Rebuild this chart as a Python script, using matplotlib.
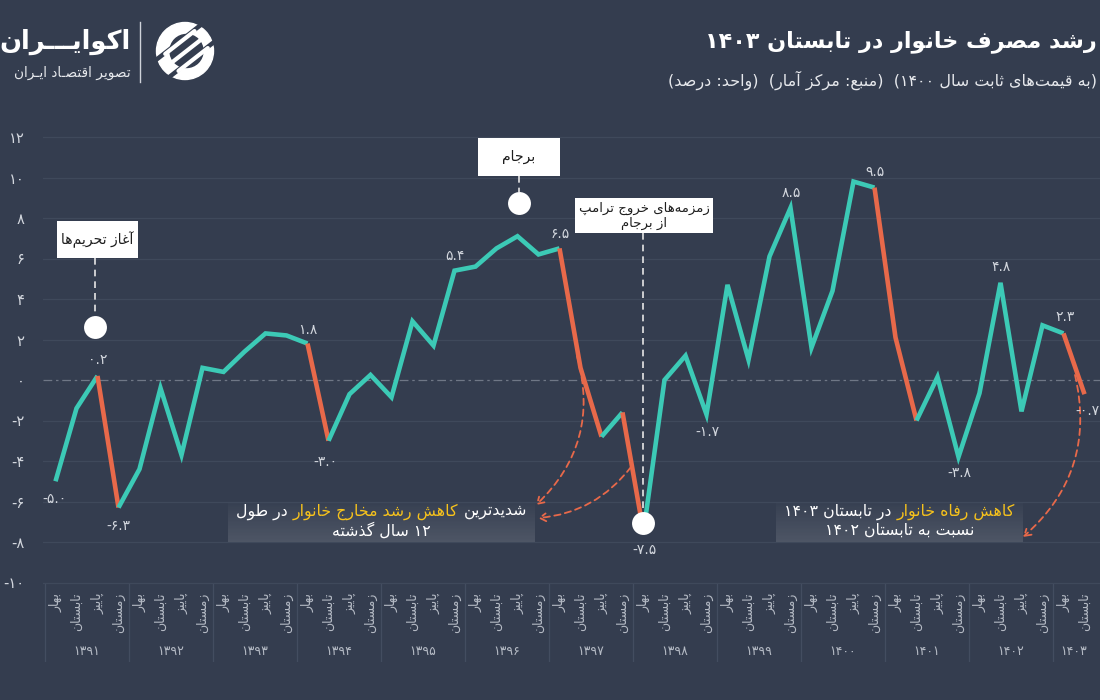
import re
import numpy as np
import matplotlib
matplotlib.use('Agg')
import matplotlib.pyplot as plt
from matplotlib.patches import Rectangle, Circle
from matplotlib.lines import Line2D

plt.rcParams['font.family'] = ['DejaVu Sans']

# ---------------- data ----------------
years = ['۱۳۹۱', '۱۳۹۲', '۱۳۹۳', '۱۳۹۴', '۱۳۹۵', '۱۳۹۶', '۱۳۹۷',
         '۱۳۹۸', '۱۳۹۹', '۱۴۰۰', '۱۴۰۱', '۱۴۰۲', '۱۴۰۳']
quarters = ['بهار', 'تابستان', 'پاییز', 'زمستان']
growth = [-5.0, -1.4, 0.2, -6.3,
          -4.4, -0.4, -3.7, 0.6,
          0.4, 1.4, 2.3, 2.2,
          1.8, -3.0, -0.7, 0.25,
          -0.85, 2.9, 1.7, 5.4,
          5.6, 6.5, 7.1, 6.2,
          6.5, 0.6, -2.8, -1.6,
          -7.5, 0.0, 1.2, -1.7,
          4.7, 1.0, 6.1, 8.5,
          1.6, 4.4, 9.8, 9.5,
          2.1, -2.0, 0.15, -3.8,
          -0.65, 4.8, -1.55, 2.7,
          2.3, -0.7]
decline_starts = [2, 12, 24, 25, 27, 39, 40, 48]
labeled_points = [0, 2, 3, 12, 13, 19, 24, 28, 31, 35, 39, 43, 45, 48, 49]
yticks = list(range(-10, 13, 2))

title = 'رشد مصرف خانوار در تابستان ۱۴۰۳'
subtitle = '(به قیمت‌های ثابت سال ۱۴۰۰)  (منبع: مرکز آمار)  (واحد: درصد)'
brand = 'اکوایـــران'
brand_sub = 'تصویر اقتصـاد ایـران'
event_sanctions = 'آغاز تحریم‌ها'
event_jcpoa = 'برجام'
event_trump = ['زمزمه‌های خروج ترامپ', 'از برجام']
note1 = [[('شدیدترین', 'w'), ('کاهش رشد مخارج خانوار', 'y'), ('در طول', 'w')],
         [('۱۲ سال گذشته', 'w')]]
note2 = [[('کاهش رفاه خانوار', 'y'), ('در تابستان ۱۴۰۳', 'w')],
         [('نسبت به تابستان ۱۴۰۲', 'w')]]

# ---------------- style ----------------
W, H = 1100, 700
BG = '#343d4f'
TEAL = '#3ccab6'
ORANGE = '#e8694a'
YELLOW = '#f6c21c'
GRID = '#3f495b'
TXT = '#d3d7de'

# ---------------- Persian shaping ----------------
_F = {}
def _add(ch, iso, fin, ini=None, med=None):
    _F[ch] = (iso, fin, ini, med)
_add('\u0627', 0xFE8D, 0xFE8E)
_add('\u0622', 0xFE81, 0xFE82)
_add('\u0628', 0xFE8F, 0xFE90, 0xFE91, 0xFE92)
_add('\u067E', 0xFB56, 0xFB57, 0xFB58, 0xFB59)
_add('\u062A', 0xFE95, 0xFE96, 0xFE97, 0xFE98)
_add('\u062B', 0xFE99, 0xFE9A, 0xFE9B, 0xFE9C)
_add('\u062C', 0xFE9D, 0xFE9E, 0xFE9F, 0xFEA0)
_add('\u0686', 0xFB7A, 0xFB7B, 0xFB7C, 0xFB7D)
_add('\u062D', 0xFEA1, 0xFEA2, 0xFEA3, 0xFEA4)
_add('\u062E', 0xFEA5, 0xFEA6, 0xFEA7, 0xFEA8)
_add('\u062F', 0xFEA9, 0xFEAA)
_add('\u0630', 0xFEAB, 0xFEAC)
_add('\u0631', 0xFEAD, 0xFEAE)
_add('\u0632', 0xFEAF, 0xFEB0)
_add('\u0698', 0xFB8A, 0xFB8B)
_add('\u0633', 0xFEB1, 0xFEB2, 0xFEB3, 0xFEB4)
_add('\u0634', 0xFEB5, 0xFEB6, 0xFEB7, 0xFEB8)
_add('\u0635', 0xFEB9, 0xFEBA, 0xFEBB, 0xFEBC)
_add('\u0636', 0xFEBD, 0xFEBE, 0xFEBF, 0xFEC0)
_add('\u0637', 0xFEC1, 0xFEC2, 0xFEC3, 0xFEC4)
_add('\u0638', 0xFEC5, 0xFEC6, 0xFEC7, 0xFEC8)
_add('\u0639', 0xFEC9, 0xFECA, 0xFECB, 0xFECC)
_add('\u063A', 0xFECD, 0xFECE, 0xFECF, 0xFED0)
_add('\u0641', 0xFED1, 0xFED2, 0xFED3, 0xFED4)
_add('\u0642', 0xFED5, 0xFED6, 0xFED7, 0xFED8)
_add('\u06A9', 0xFB8E, 0xFB8F, 0xFB90, 0xFB91)
_add('\u0643', 0xFED9, 0xFEDA, 0xFEDB, 0xFEDC)
_add('\u06AF', 0xFB92, 0xFB93, 0xFB94, 0xFB95)
_add('\u0644', 0xFEDD, 0xFEDE, 0xFEDF, 0xFEE0)
_add('\u0645', 0xFEE1, 0xFEE2, 0xFEE3, 0xFEE4)
_add('\u0646', 0xFEE5, 0xFEE6, 0xFEE7, 0xFEE8)
_add('\u0647', 0xFEE9, 0xFEEA, 0xFEEB, 0xFEEC)
_add('\u0648', 0xFEED, 0xFEEE)
_add('\u06CC', 0xFBFC, 0xFBFD, 0xFBFE, 0xFBFF)
_add('\u064A', 0xFEF1, 0xFEF2, 0xFEF3, 0xFEF4)
_add('\u0640', 0x0640, 0x0640, 0x0640, 0x0640)


def _dual(c):
    return c in _F and _F[c][2] is not None


def shape(s):
    out = []
    n = len(s)
    i = 0
    while i < n:
        c = s[i]
        prev = s[i - 1] if i > 0 else ''
        jp = _dual(prev)
        if c == '\u0644' and i + 1 < n and s[i + 1] in ('\u0627', '\u0622'):
            iso, fin = (0xFEFB, 0xFEFC) if s[i + 1] == '\u0627' else (0xFEF5, 0xFEF6)
            out.append(chr(fin if jp else iso))
            i += 2
            continue
        if c in _F:
            iso, fin, ini, med = _F[c]
            nxt = s[i + 1] if i + 1 < n else ''
            jn = ini is not None and nxt in _F
            if jp and jn:
                g = med
            elif jp:
                g = fin
            elif jn:
                g = ini
            else:
                g = iso
            out.append(chr(g))
        elif c != '\u200c':
            out.append(c)
        i += 1
    return ''.join(out)


_LTR = re.compile(r'[0-9\u06F0-\u06F9]+(?:[.\u066B][0-9\u06F0-\u06F9]+)*')
_MIR = {'(': ')', ')': '(', '[': ']', ']': '['}


def visual(s):
    s = shape(s)
    parts, pos = [], 0
    for m in _LTR.finditer(s):
        if m.start() > pos:
            parts.append(('r', s[pos:m.start()]))
        parts.append(('l', m.group()))
        pos = m.end()
    if pos < len(s):
        parts.append(('r', s[pos:]))
    out = []
    for kind, t in reversed(parts):
        if kind == 'l':
            out.append(t)
        else:
            out.append(''.join(_MIR.get(ch, ch) for ch in reversed(t)))
    return ''.join(out)


_FA = str.maketrans('0123456789', '۰۱۲۳۴۵۶۷۸۹')


def fa(v, fmt='{:.1f}'):
    s = fmt.format(abs(v)).translate(_FA)
    return ('-' if v < 0 else '') + s


# ---------------- figure ----------------
fig = plt.figure(figsize=(W / 100, H / 100), dpi=100, facecolor=BG)
renderer = fig.canvas.get_renderer()


def fx(px):
    return px / W


def fy(py):
    return 1 - py / H


# pixel geometry helpers (positions of annotations)
X0PX, DXPX, Y0PX, DYPX = 55.5, 21.0, 380.0, 20.25


def dx(px):
    return (px - X0PX) / DXPX


def dy(py):
    return (Y0PX - py) / DYPX


ax = fig.add_axes([fx(43), fy(590), (1100 - 43) / W, (590 - 110) / H])
ax.set_facecolor('none')
for s in ax.spines.values():
    s.set_visible(False)
ax.set_xticks([])
ax.set_yticks(yticks)
ax.set_yticklabels([fa(v, '{:.0f}') for v in yticks], fontsize=10.5, color=TXT)
ax.tick_params(axis='y', length=0, pad=13.5)
for v in yticks:
    if v != 0:
        ax.axhline(v, color=GRID, lw=0.9, zorder=0)
ax.axhline(0, color='#6f7786', lw=0.9, ls=(0, (7, 3, 2, 3)), zorder=0)

# line, split in runs by colour
xs = np.arange(len(growth))
cols = [ORANGE if i in decline_starts else TEAL for i in range(len(growth) - 1)]
start = 0
for i in range(1, len(cols) + 1):
    if i == len(cols) or cols[i] != cols[start]:
        ax.plot(xs[start:i + 1], growth[start:i + 1], color=cols[start], lw=3.3,
                solid_joinstyle='miter', solid_capstyle='butt', zorder=4)
        start = i

# value labels
lab_off = {0: (-1, 18), 2: (0, -16), 3: (0, 18), 12: (0, -14), 13: (-3, 21),
           19: (0, -15), 24: (1, -14), 28: (1, 18), 31: (1, 18), 35: (1, -15),
           39: (1, -16), 43: (1, 16), 45: (1, -16), 48: (2, -16), 49: (3, 17)}
for i in labeled_points:
    ox, oy = lab_off[i]
    ax.annotate(fa(growth[i]), (i, growth[i]), xytext=(ox * 0.72, -oy * 0.72),
                textcoords='offset points', ha='center', va='center',
                fontsize=10, color=TXT, zorder=7, annotation_clip=False)


# event boxes
def event_box(x0, x1, y0, y1, lines, fs=10):
    ax.add_patch(Rectangle((dx(x0), dy(y1)), dx(x1) - dx(x0), dy(y0) - dy(y1),
                           fc='white', ec='none', zorder=8, clip_on=False))
    cx = (dx(x0) + dx(x1)) / 2
    n = len(lines)
    cyp = (y0 + y1) / 2
    for k, t in enumerate(lines):
        ypx = cyp + (k - (n - 1) / 2) * 15
        ax.text(cx, dy(ypx), visual(t), ha='center', va='center', fontsize=fs,
                color='#1e1e1e', zorder=9)


def vdash(xpx, ya, yb):
    ax.plot([dx(xpx), dx(xpx)], [dy(ya), dy(yb)], color='#e6e6e6', lw=1.2,
            ls=(0, (4, 3)), zorder=5, clip_on=False)


def dot(xpx, ypx):
    ax.plot([dx(xpx)], [dy(ypx)], 'o', ms=16.5, color='white', mec='none', zorder=8,
            clip_on=False)


event_box(57, 138, 221, 258, [event_sanctions])
vdash(95, 258, 316)
dot(95, 327)

event_box(478, 560, 138, 176, [event_jcpoa])
vdash(519, 176, 192)
dot(519, 203)

event_box(575, 713, 198, 233, event_trump, fs=9.5)
vdash(643, 233, 512)
dot(643, 523)

# gradient note boxes
grad = np.zeros((64, 1, 4))
grad[..., :3] = 1.0
grad[:, 0, 3] = np.linspace(0.02, 0.13, 64)


def text_w(s, fs):
    t = fig.text(0, 0, s, fontsize=fs)
    w = t.get_window_extent(renderer).width
    t.remove()
    return w


def rich_line(cx, cy, segs, fs):
    pieces = [(visual(t), YELLOW if c == 'y' else 'white') for t, c in reversed(segs)]
    sp = text_w('x x', fs) - text_w('xx', fs)
    ws = [text_w(p, fs) for p, _ in pieces]
    total = sum(ws) + sp * (len(pieces) - 1)
    x = cx - total / 2
    for (p, c), w in zip(pieces, ws):
        fig.text(fx(x), fy(cy), p, color=c, fontsize=fs, ha='left', va='center',
                 zorder=10)
        x += w + sp


def note_box(x0, x1, y0, y1, lines, fs=11.3):
    ax.imshow(grad, extent=[dx(x0), dx(x1), dy(y1), dy(y0)], aspect='auto',
              origin='upper', zorder=2, interpolation='bilinear')
    cx = (x0 + x1) / 2
    for k, segs in enumerate(lines):
        rich_line(cx, y0 + 8.5 + k * 18.5, segs, fs)


note_box(228, 535, 503, 542, note1)
note_box(776, 1023, 503, 542, note2)
ax.set_xlim(dx(43), dx(1100))
ax.set_ylim(dy(590), dy(110))


# curved dashed arrows
def carrow(p0, p1, rad):
    ax.annotate('', xy=(dx(p1[0]), dy(p1[1])), xytext=(dx(p0[0]), dy(p0[1])),
                arrowprops=dict(arrowstyle='->,head_length=0.45,head_width=0.28',
                                color=ORANGE, lw=1.3, ls=(0, (3.5, 2.5)),
                                connectionstyle='arc3,rad=%s' % rad,
                                shrinkA=0, shrinkB=0), zorder=6)


carrow((577, 356), (536, 505), -0.3)
carrow((631, 467), (538, 518), -0.22)
carrow((1075, 375), (1023, 537), -0.3)

# ---------------- category axis ----------------
axl = fig.add_axes([fx(43), fy(662), (1100 - 43) / W, (662 - 584) / H])
axl.set_xlim(dx(43), dx(1100))
axl.set_ylim(0, 1)
axl.axis('off')
n = len(growth)
for b in range(0, n, 4):
    axl.plot([b - 0.5, b - 0.5], [0, 1], color='#434d60', lw=0.9)
for i in range(n):
    axl.text(i, 0.885, visual(quarters[i % 4]), rotation=90, ha='center', va='top',
             fontsize=9, color='#b4bac4')
for k, yname in enumerate(years):
    first = 4 * k
    last = min(4 * k + 3, n - 1)
    axl.text((first + last) / 2, 0.13, yname, ha='center', va='center',
             fontsize=9, color='#b4bac4')

# ---------------- title & branding ----------------
fig.text(fx(1097), fy(42), visual(title), ha='right', va='center', fontsize=16,
         weight='bold', color='white')
fig.text(fx(1097), fy(80), visual(subtitle), ha='right', va='center', fontsize=11.5,
         color='#e6e8ec')

fig.text(fx(131), fy(42), visual(brand), ha='right', va='center', fontsize=18.5,
         weight='bold', color='white')
fig.text(fx(131), fy(73), visual(brand_sub), ha='right', va='center', fontsize=9.8,
         color='#e6e8ec')
fig.add_artist(Line2D([fx(140), fx(140)], [fy(22), fy(82)], color='#cfd3da', lw=1))

axi = fig.add_axes([fx(152), fy(84), 66 / W, 66 / H])
axi.set_xlim(-1.1, 1.1)
axi.set_ylim(-1.1, 1.1)
axi.set_aspect('equal')
axi.axis('off')
axi.add_patch(Circle((0, 0), 0.95, color='white'))
ang = np.deg2rad(38)
ux, uy = np.cos(ang), np.sin(ang)
nx_, ny_ = -uy, ux
tt = np.array([-1.6, 1.6])
for off in (-0.36, 0.36):
    axi.plot(tt * ux + off * nx_, tt * uy + off * ny_, color=BG, lw=3.2,
             solid_capstyle='butt')
axi.add_patch(Circle((0.05, 0.0), 0.55, color=BG))
for off in (-0.36, 0.0, 0.36):
    seg = np.array([-0.62, 0.62])
    axi.plot(seg * ux + off * nx_ + 0.05, seg * uy + off * ny_, color='white', lw=3.0,
             solid_capstyle='round')

fig.savefig('out.png', dpi=100, facecolor=BG)
